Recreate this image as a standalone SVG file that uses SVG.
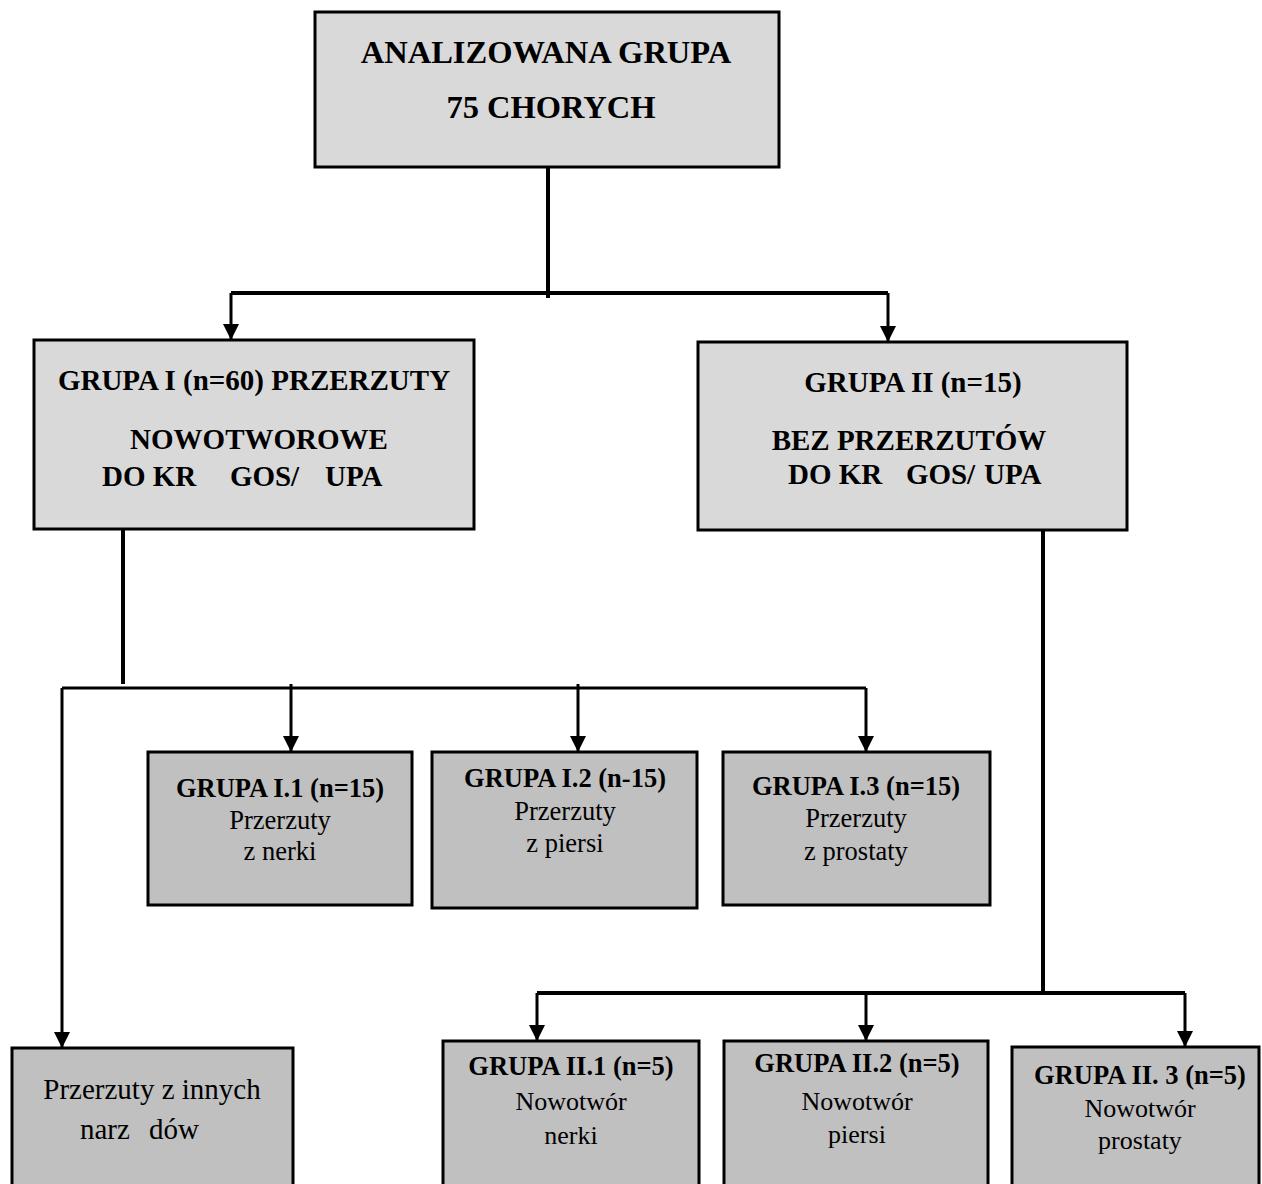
<svg xmlns="http://www.w3.org/2000/svg" width="1262" height="1184" viewBox="0 0 1262 1184">
<style>
.box1{fill:#d9d9d9;stroke:#000;stroke-width:3}
.box2{fill:#c0c0c0;stroke:#000;stroke-width:3}
.b{font-family:"Liberation Serif","Times New Roman",serif;font-weight:bold;fill:#000;text-anchor:middle}
.r{font-family:"Liberation Serif","Times New Roman",serif;fill:#000;text-anchor:middle}
.ln{fill:none;stroke:#000;stroke-width:4}
.ln3{fill:none;stroke:#000;stroke-width:3}
</style>
<defs>
<marker id="ah" markerUnits="userSpaceOnUse" markerWidth="16" markerHeight="16" viewBox="0 0 16 16" refX="16" refY="8" orient="auto">
<path d="M0,0 L16,8 L0,16 Z" fill="#000"/>
</marker>
</defs>
<rect width="1262" height="1184" fill="#fff"/>

<g id="connectors">
<path class="ln" d="M548,167 V298"/>
<path class="ln" d="M231,293 H888"/>
<path class="ln3" d="M231,293 V340" marker-end="url(#ah)"/>
<path class="ln3" d="M888,293 V342" marker-end="url(#ah)"/>
<path class="ln" d="M123,529 V684"/>
<path class="ln3" d="M62,688 H866"/>
<path class="ln3" d="M62,688 V1048" marker-end="url(#ah)"/>
<path class="ln3" d="M291,684 V752" marker-end="url(#ah)"/>
<path class="ln3" d="M578,684 V752" marker-end="url(#ah)"/>
<path class="ln3" d="M866,688 V752" marker-end="url(#ah)"/>
<path class="ln" d="M1043,530 V993"/>
<path class="ln" d="M537,993 H1185"/>
<path class="ln3" d="M537,993 V1041" marker-end="url(#ah)"/>
<path class="ln3" d="M866,993 V1041" marker-end="url(#ah)"/>
<path class="ln3" d="M1185,993 V1047" marker-end="url(#ah)"/>
</g>

<g id="top">
<rect class="box1" x="315" y="12" width="464" height="155"/>
<text class="b" x="546" y="63" font-size="32.5">ANALIZOWANA GRUPA</text>
<text class="b" x="551" y="118" font-size="32.5">75 CHORYCH</text>
</g>

<g id="grupa1">
<rect class="box1" x="34" y="340" width="440" height="189"/>
<text class="b" x="254" y="390" font-size="29">GRUPA I (n=60) PRZERZUTY</text>
<text class="b" x="259" y="449" font-size="29">NOWOTWOROWE</text>
<text class="b" font-size="29" style="text-anchor:start" y="486"><tspan x="102">DO KR</tspan><tspan x="230">GOS</tspan><tspan x="291">/</tspan><tspan x="325">UPA</tspan></text>
</g>

<g id="grupa2">
<rect class="box1" x="698" y="342" width="429" height="188"/>
<text class="b" x="913" y="392" font-size="29">GRUPA II (n=15)</text>
<text class="b" x="909" y="450" font-size="29">BEZ PRZERZUTÓW</text>
<text class="b" font-size="29" style="text-anchor:start" y="484"><tspan x="788">DO KR</tspan><tspan x="906">GOS</tspan><tspan x="967">/</tspan><tspan x="984">UPA</tspan></text>
</g>

<g id="grupa1_1">
<rect class="box2" x="148" y="752" width="264" height="153"/>
<text class="b" x="280" y="797" font-size="26.5">GRUPA I.1 (n=15)</text>
<text class="r" x="280" y="829" font-size="26.5">Przerzuty</text>
<text class="r" x="280" y="860" font-size="26.5">z nerki</text>
</g>

<g id="grupa1_2">
<rect class="box2" x="432" y="752" width="265" height="156"/>
<text class="b" x="565" y="787" font-size="26.5">GRUPA I.2 (n-15)</text>
<text class="r" x="565" y="820" font-size="26.5">Przerzuty</text>
<text class="r" x="565" y="852" font-size="26.5">z piersi</text>
</g>

<g id="grupa1_3">
<rect class="box2" x="723" y="752" width="267" height="153"/>
<text class="b" x="856" y="795" font-size="26.5">GRUPA I.3 (n=15)</text>
<text class="r" x="856" y="827" font-size="26.5">Przerzuty</text>
<text class="r" x="856" y="860" font-size="26.5">z prostaty</text>
</g>

<g id="inne">
<rect class="box2" x="12" y="1048" width="281" height="150"/>
<text class="r" x="152" y="1099" font-size="29">Przerzuty z innych</text>
<text class="r" font-size="29" style="text-anchor:start" y="1139"><tspan x="80">narz</tspan><tspan x="149">dów</tspan></text>
</g>

<g id="grupa2_1">
<rect class="box2" x="443" y="1041" width="256" height="150"/>
<text class="b" x="571" y="1075" font-size="26.5">GRUPA II.1 (n=5)</text>
<text class="r" x="571" y="1110" font-size="26">Nowotwór</text>
<text class="r" x="571" y="1144" font-size="26">nerki</text>
</g>

<g id="grupa2_2">
<rect class="box2" x="724" y="1041" width="264" height="150"/>
<text class="b" x="857" y="1072" font-size="26.5">GRUPA II.2 (n=5)</text>
<text class="r" x="857" y="1110" font-size="26">Nowotwór</text>
<text class="r" x="857" y="1143" font-size="26">piersi</text>
</g>

<g id="grupa2_3">
<rect class="box2" x="1012" y="1047" width="247" height="150"/>
<text class="b" x="1140" y="1084" font-size="26.5">GRUPA II. 3 (n=5)</text>
<text class="r" x="1140" y="1117" font-size="26">Nowotwór</text>
<text class="r" x="1140" y="1149" font-size="26">prostaty</text>
</g>
</svg>
